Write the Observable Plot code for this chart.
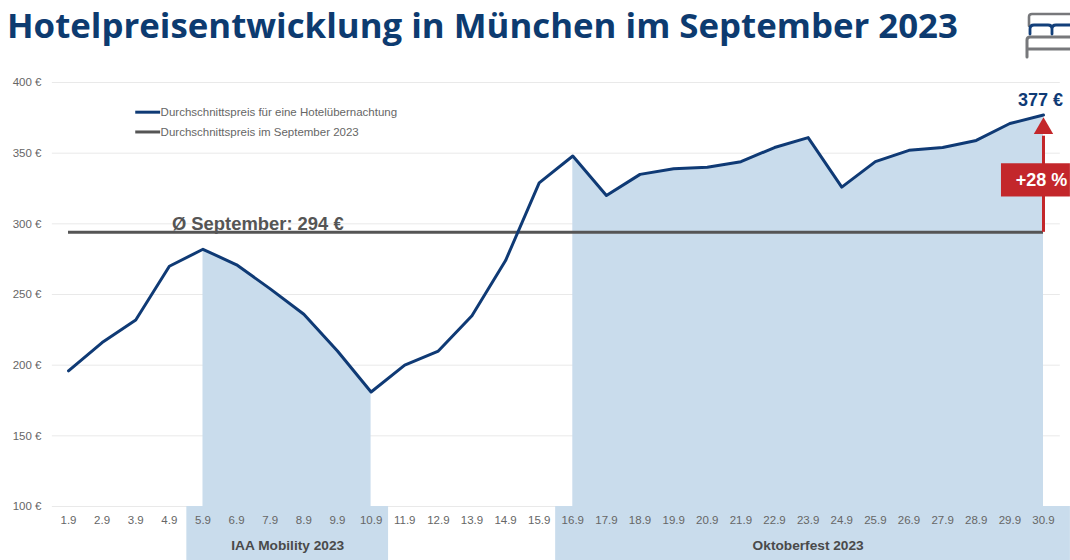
<!DOCTYPE html>
<html lang="de">
<head>
<meta charset="utf-8">
<script src="https://cdn.jsdelivr.net/npm/d3@7"></script>
<script src="https://cdn.jsdelivr.net/npm/@observablehq/plot@0.6"></script>
<style>
html,body{margin:0;padding:0;background:#fff;width:1070px;height:560px;overflow:hidden}
#wrap{position:relative;width:1070px;height:560px;overflow:hidden}
h1{position:absolute;left:7px;top:3px;margin:0;font:700 34.8px/44px "Open Sans",sans-serif;color:#0d3b70;white-space:nowrap}
#chart{position:absolute;left:0;top:48px}
#bed{position:absolute;left:1024px;top:12px}
#chart svg{overflow:visible}
</style>
</head>
<body>
<div id="wrap">
<h1>Hotelpreisentwicklung in München im September 2023</h1>
<svg id="bed" width="46" height="50" viewBox="0 0 46 50" fill="none" stroke-linecap="round">
  <path d="M5 14V5q0-3 3-3H46" stroke="#77787b" stroke-width="2.6"/>
  <path d="M3 45V28q0-3 3-3H46M3 37H46" stroke="#77787b" stroke-width="3"/>
  <path d="M6 22v-5q0-4 4-4h14q4 0 4 4v5M28 17q0-4 4-4H46" stroke="#123f7a" stroke-width="2.8"/>
</svg>
<div id="chart"></div>
</div>
<script>
const days = d3.range(1, 31);
const prices = [196,216,232,270,282,271,254,236,210,181,200,210,235,274,329,348,320,335,339,340,344,354,361,326,344,352,354,359,371,377];
const average = 294;
const yTicks = [100,150,200,250,300,350,400];
const iaaDays = [5,10];
const oktDays = [16,30];
const bands = [
  {name:"IAA Mobility 2023", from:4.52, to:10.52, labelAt:7.52},
  {name:"Oktoberfest 2023", from:15.49, to:30.8, labelAt:23.0}
];
const legendItems = ["Durchschnittspreis für eine Hotelübernachtung","Durchschnittspreis im September 2023"];
const legendColors = ["#0f3a75","#555555"];
const legendY = [379,365];
const series = days.map((d,i)=>({day:d,price:prices[i]}));
const navy = "#0f3a75", grey = "#555555", band = "#c9dcec", red = "#c3272b";
const inRange = r => series.filter(d=>d.day>=r[0]&&d.day<=r[1]);

const plot = Plot.plot({
  width:1070, height:512,
  marginLeft:68, marginRight:27, marginTop:34, marginBottom:54,
  style:{fontFamily:"'Liberation Sans',Arial,sans-serif",background:"transparent",overflow:"visible"},
  x:{type:"linear",domain:[1,30],axis:null},
  y:{type:"linear",domain:[100,400],axis:null},
  marks:[
    Plot.ruleY(yTicks,{x1:0.52,x2:30.5,stroke:"#e9e9e9",strokeWidth:1}),
    Plot.axisY({ticks:yTicks,tickSize:0,tickPadding:27,tickFormat:d=>`${d} €`,fontSize:11.5,color:"#666666",label:null}),
    Plot.rect(bands,{x1:"from",x2:"to",y1:61.8,y2:100,fill:band}),
    Plot.areaY(inRange(iaaDays),{x:"day",y1:100,y2:"price",fill:band}),
    Plot.areaY(inRange(oktDays),{x:"day",y1:100,y2:"price",fill:band}),
    Plot.axisX({ticks:days,tickSize:0,tickPadding:9,tickFormat:d=>`${d}.9`,fontSize:11.5,color:"#666666",label:null}),
    Plot.text(bands,{x:"labelAt",y:72,text:"name",fontSize:13.7,fontWeight:"bold",fill:"#4a4a4a"}),
    Plot.ruleY([average],{x1:1,x2:30,stroke:grey,strokeWidth:3}),
    Plot.ruleX([30],{y1:average,y2:362,stroke:red,strokeWidth:3}),
    Plot.dot([30],{x:d=>d,y:367.5,symbol:"triangle",r:7.2,fill:red,stroke:null}),
    Plot.rect([0],{x1:28.75,x2:30.8,y1:319,y2:342.5,fill:red}),
    Plot.text(["+28 %"],{x:30,y:331,fontSize:18,fontWeight:"bold",fill:"#fff",dx:-2}),
    Plot.line(series,{x:"day",y:"price",stroke:navy,strokeWidth:3,curve:"linear"}),
    Plot.text(["377 €"],{x:30,y:387.5,fontSize:18,fontWeight:"bold",fill:navy,dx:-3}),
    Plot.text(["Ø September: 294 €"],{x:6.63,y:300,fontSize:18.4,fontWeight:"bold",fill:grey}),
    Plot.ruleY([0,1],{y:i=>legendY[i],x1:3,x2:3.74,stroke:i=>legendColors[i],strokeWidth:3}),
    Plot.text([0,1],{x:3.74,y:i=>legendY[i],text:i=>legendItems[i],textAnchor:"start",fontSize:11.5,fill:"#666666"})
  ]
});
document.getElementById("chart").appendChild(plot);
</script>
</body>
</html>
